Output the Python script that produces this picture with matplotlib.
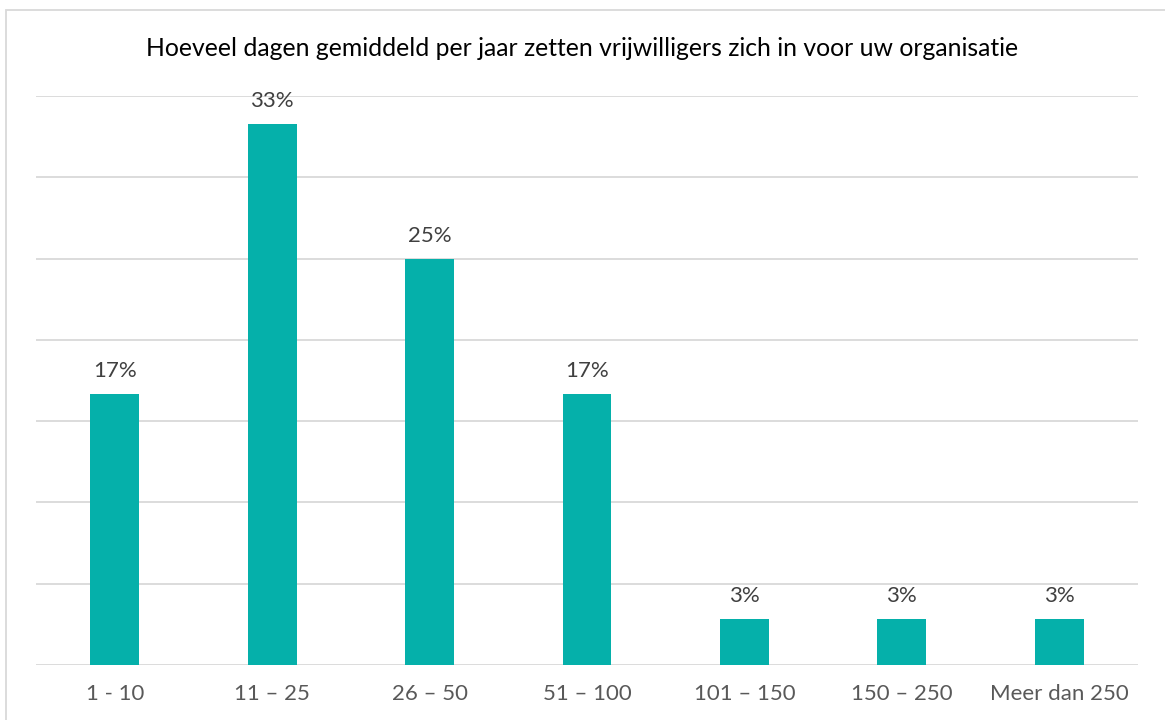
import matplotlib.pyplot as plt
from matplotlib.patches import Rectangle

categories = ["1 - 10", "11 \u2013 25", "26 \u2013 50", "51 \u2013 100",
              "101 \u2013 150", "150 \u2013 250", "Meer dan 250"]
values = [16.7, 33.3, 25.0, 16.7, 2.8, 2.8, 2.8]
labels = ["17%", "33%", "25%", "17%", "3%", "3%", "3%"]
title = "Hoeveel dagen gemiddeld per jaar zetten vrijwilligers zich in voor uw organisatie"

plt.rcParams['font.family'] = ['Lato', 'DejaVu Sans']

fig = plt.figure(figsize=(11.65, 7.2), dpi=100)
ax = fig.add_axes([36/1165, 1 - 665/720, 1102/1165, 569/720])

x = range(len(categories))
bars = ax.bar(x, values, width=0.31, color="#05B0AA", zorder=3)
for b, lab in zip(bars, labels):
    ax.text(b.get_x() + b.get_width()/2, b.get_height() + 0.8, lab,
            ha="center", va="bottom", fontsize=16, color="#404040")

ax.set_xlim(-0.5, len(categories) - 0.5)
ax.set_ylim(0, 35)
ax.set_yticks(range(0, 36, 5))
ax.set_yticklabels([])
ax.tick_params(axis="y", length=0)
ax.set_xticks(list(x))
ax.set_xticklabels(categories, fontsize=16, color="#595959")
ax.tick_params(axis="x", length=0, pad=14)
ax.grid(axis="y", color="#D9D9D9", linewidth=1.3, zorder=0)
for s in ax.spines.values():
    s.set_visible(False)

fig.text(0.5, 1 - 48/720, title, ha="center", va="center", fontsize=17.8, color="#000000")

fig.patches.append(Rectangle((6/1165, -0.05), 1.2, 1 - 10/720 + 0.05,
                             transform=fig.transFigure, fill=False,
                             edgecolor="#D9D9D9", linewidth=1.3))

fig.savefig("out.png", dpi=100)
